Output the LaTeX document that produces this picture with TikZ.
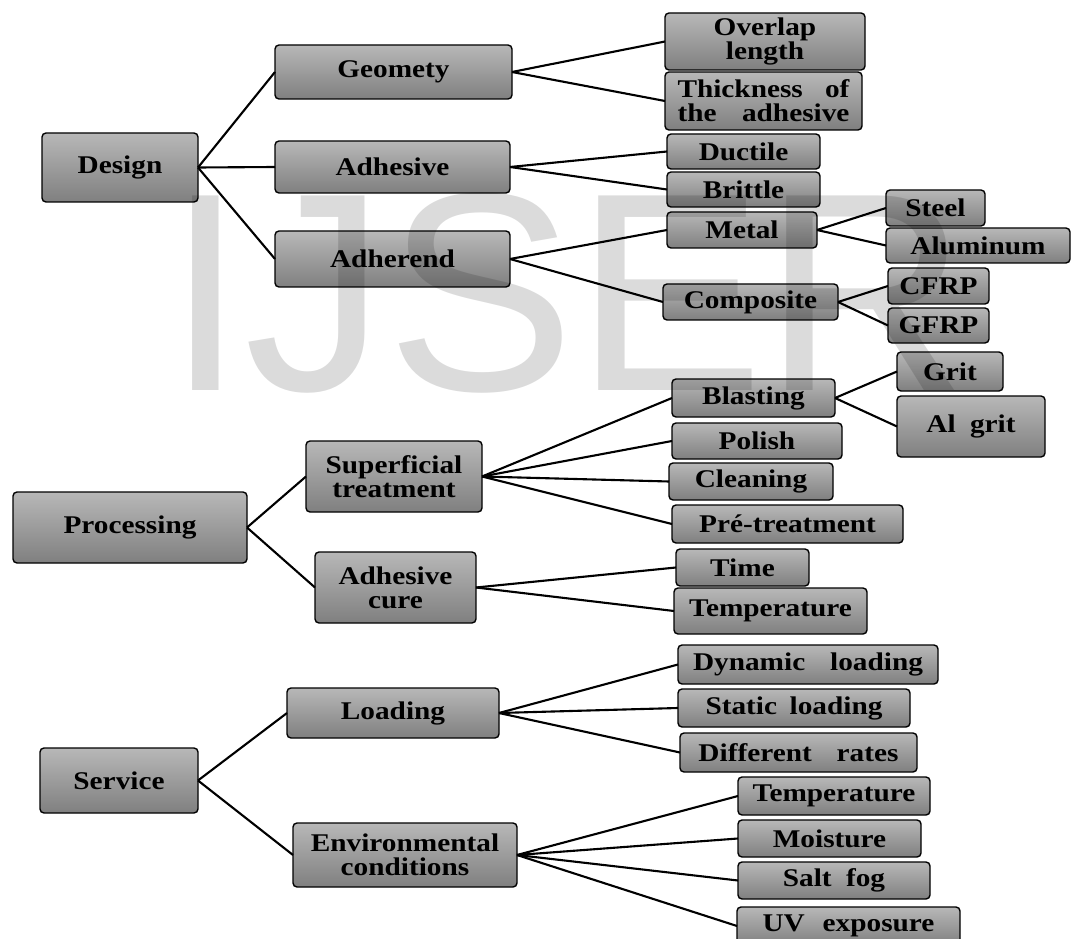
\documentclass[tikz,border=0pt]{standalone}
\usepackage{fontspec}
\setmainfont{Liberation Serif}
\newfontfamily\boxfont[FakeStretch=1.15]{Liberation Serif}
\newfontfamily\wmfont{Liberation Sans}

\tikzset{
  box/.style={draw=black, line width=0.8pt, rounded corners=0.08cm,
    top color=black!28, bottom color=black!50, inner sep=0pt, outer sep=0pt,
    align=center, font=\boxfont\bfseries\fontsize{14.5}{13.6}\selectfont},
  dims/.style 2 args={minimum width=#1*0.02cm, minimum height=#2*0.02cm},
  link/.style={line width=1.2pt, black},
  wmark/.style={anchor=base west, inner sep=0pt, text=black, text opacity=0.14,
    font=\wmfont\fontsize{161}{161}\selectfont}
}

\begin{document}
\begin{tikzpicture}[x=0.02cm, y=-0.02cm]
        \useasboundingbox (0,0) rectangle (1072,939);

                % Design branch
                \node[box, dims={156}{69}] (design) at (120, 167.5) {Design};
                \node[box, dims={237}{54}] (geom) at (393.5, 72) {Geomety};
                \node[box, dims={235}{52}] (adhesive) at (392.5, 167) {Adhesive};
                \node[box, dims={235}{56}] (adherend) at (392.5, 259) {Adherend};
                \node[box, dims={200}{57}] (overlap) at (765, 41.5) {Overlap\\length};
                \node[box, dims={197}{58}, text width=172*0.02cm] (thick) at (763.5, 101) {Thickness\hfill of\\the\hfill adhesive};
                \node[box, dims={153}{35}] (ductile) at (743.5, 151.5) {Ductile};
                \node[box, dims={153}{35}] (brittle) at (743.5, 189.5) {Brittle};
                \node[box, dims={150}{36}] (metal) at (742, 230) {Metal};
                \node[box, dims={175}{36}] (composite) at (750.5, 302) {Composite};
                \node[box, dims={99}{36}] (steel) at (935.5, 208) {Steel};
                \node[box, dims={184}{35}] (alum) at (978, 245.5) {Aluminum};
                \node[box, dims={101}{36}] (cfrp) at (938.5, 286) {CFRP};
                \node[box, dims={101}{35}] (gfrp) at (938.5, 325.5) {GFRP};

                % Processing branch
                \node[box, dims={234}{71}] (processing) at (130, 527.5) {Processing};
                \node[box, dims={176}{71}] (superficial) at (394, 476.5) {Superficial\\treatment};
                \node[box, dims={161}{71}] (cure) at (395.5, 587.5) {Adhesive\\cure};
                \node[box, dims={163}{38}] (blasting) at (753.5, 398) {Blasting};
                \node[box, dims={106}{39}] (grit) at (950, 371.5) {Grit};
                \node[box, dims={148}{61}] (algrit) at (971, 426.5) {Al\hspace{4pt} grit};
                \node[box, dims={170}{36}] (polish) at (757, 441) {Polish};
                \node[box, dims={164}{37}] (cleaning) at (751, 481.5) {Cleaning};
                \node[box, dims={231}{38}] (pretreat) at (787.5, 524) {Pré-treatment};
                \node[box, dims={133}{37}] (time) at (742.5, 567.5) {Time};
                \node[box, dims={193}{46}] (tempcure) at (770.5, 611) {Temperature};

                % Service branch
                \node[box, dims={158}{65}] (service) at (119, 780.5) {Service};
                \node[box, dims={212}{50}] (loading) at (393, 713) {Loading};
                \node[box, dims={224}{64}] (env) at (405, 855) {Environmental\\conditions};
                \node[box, dims={260}{39}] (dynamic) at (808, 664.5) {Dynamic\hspace{10pt} loading};
                \node[box, dims={232}{38}] (static) at (794, 708) {Static\hspace{3pt} loading};
                \node[box, dims={237}{39}] (different) at (798.5, 752.5) {Different\hspace{10pt} rates};
                \node[box, dims={192}{38}] (tempenv) at (834, 796) {Temperature};
                \node[box, dims={183}{37}] (moisture) at (829.5, 838.5) {Moisture};
                \node[box, dims={192}{37}] (saltfog) at (834, 880.5) {Salt\hspace{4pt} fog};
                \node[box, dims={223}{38}] (uv) at (848.5, 926) {UV\hspace{6pt} exposure};

                % Connectors
                \draw[link] (design.east) -- (geom.west);
                \draw[link] (design.east) -- (adhesive.west);
                \draw[link] (design.east) -- (adherend.west);
                \draw[link] (geom.east) -- (overlap.west);
                \draw[link] (geom.east) -- (thick.west);
                \draw[link] (adhesive.east) -- (ductile.west);
                \draw[link] (adhesive.east) -- (brittle.west);
                \draw[link] (adherend.east) -- (metal.west);
                \draw[link] (adherend.east) -- (composite.west);
                \draw[link] (metal.east) -- (steel.west);
                \draw[link] (metal.east) -- (alum.west);
                \draw[link] (composite.east) -- (cfrp.west);
                \draw[link] (composite.east) -- (gfrp.west);

                \draw[link] (processing.east) -- (superficial.west);
                \draw[link] (processing.east) -- (cure.west);
                \draw[link] (superficial.east) -- (blasting.west);
                \draw[link] (superficial.east) -- (polish.west);
                \draw[link] (superficial.east) -- (cleaning.west);
                \draw[link] (superficial.east) -- (pretreat.west);
                \draw[link] (blasting.east) -- (grit.west);
                \draw[link] (blasting.east) -- (algrit.west);
                \draw[link] (cure.east) -- (time.west);
                \draw[link] (cure.east) -- (tempcure.west);

                \draw[link] (service.east) -- (loading.west);
                \draw[link] (service.east) -- (env.west);
                \draw[link] (loading.east) -- (dynamic.west);
                \draw[link] (loading.east) -- (static.west);
                \draw[link] (loading.east) -- (different.west);
                \draw[link] (env.east) -- (tempenv.west);
                \draw[link] (env.east) -- (moisture.west);
                \draw[link] (env.east) -- (saltfog.west);
                \draw[link] (env.east) -- (uv.west);

                % Watermark over everything
                \node[wmark] (mark) at (166, 390) {IJSER};
            \end{tikzpicture}
\end{document}
